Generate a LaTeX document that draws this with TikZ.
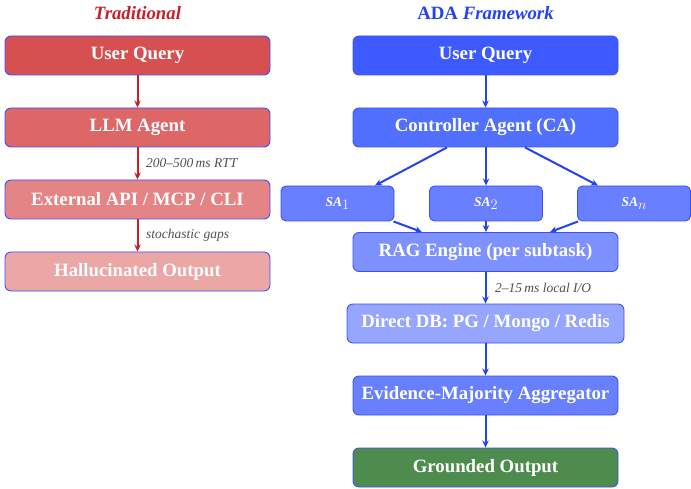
\documentclass[tikz,border=0pt]{standalone}
\usepackage{fontspec}
\setmainfont{Liberation Serif}
\usetikzlibrary{arrows.meta}
\definecolor{tred}{RGB}{200,30,40}
\definecolor{tblue}{RGB}{35,65,245}
\definecolor{bord}{RGB}{60,80,255}
\definecolor{r1}{RGB}{214,80,82}
\definecolor{r2}{RGB}{221,102,102}
\definecolor{r3}{RGB}{228,132,132}
\definecolor{r4}{RGB}{235,166,166}
\definecolor{b1}{RGB}{60,90,255}
\definecolor{b2}{RGB}{82,112,255}
\definecolor{b3}{RGB}{104,128,255}
\definecolor{b4}{RGB}{126,146,255}
\definecolor{b5}{RGB}{150,166,255}
\definecolor{b6}{RGB}{104,128,255}
\definecolor{gout}{RGB}{78,140,78}
\definecolor{lbl}{RGB}{80,80,80}
\newcommand{\salabel}[1]{{\fontsize{13.5}{15}\selectfont\bfseries\itshape SA}\raisebox{-3.5pt}{\fontsize{15}{17}\selectfont$#1$}}
\tikzset{
  box/.style={draw=bord, line width=0.9pt, rounded corners=6pt, text=white,
    minimum height=39pt, minimum width=265pt, inner sep=0pt,
    font=\fontsize{18.8}{22}\selectfont\bfseries},
  sabox/.style={draw=bord, line width=0.9pt, rounded corners=5pt, text=white,
    minimum height=35pt, minimum width=113pt, inner sep=0pt, fill=b3},
  rarr/.style={draw=tred, line width=2pt, -{Stealth[length=7pt,width=6.5pt]}},
  barr/.style={draw=tblue, line width=2pt, -{Stealth[length=7pt,width=6.5pt]}},
  elbl/.style={anchor=west, text=lbl, inner sep=0pt, font=\fontsize{13.5}{15}\selectfont\itshape},
  ttl/.style={inner sep=0pt, font=\fontsize{18.8}{22}\selectfont\bfseries}
}
\begin{document}
\begin{tikzpicture}[x=1pt,y=-1pt]
\useasboundingbox (0,0) rectangle (691,489);
% titles
\node[ttl, text=tred] (t1) at (137.5,13) {\itshape Traditional};
\node[ttl, text=tblue] (t2) at (485.5,13) {ADA \itshape Framework};
% left column
\node[box, fill=r1] (l1) at (137.5,55.5) {User Query};
\node[box, fill=r2] (l2) at (137.5,127.5) {LLM Agent};
\node[box, fill=r3] (l3) at (137.5,199.5) {External API / MCP / CLI};
\node[box, fill=r4] (l4) at (137.5,271.5) {Hallucinated Output};
\draw[rarr] (l1) -- (l2);
\draw[rarr] (l2) -- (l3);
\draw[rarr] (l3) -- (l4);
\node[elbl] (e1) at (146,163.5) {200--500\,ms RTT};
\node[elbl] (e2) at (146,235.5) {stochastic gaps};
% right column
\node[box, fill=b1] (r1) at (485.5,55.5) {User Query};
\node[box, fill=b2] (ca) at (485.5,127.5) {Controller Agent (CA)};
\node[sabox] (sa1) at (337.5,203.5) {\salabel{1}};
\node[sabox] (sa2) at (486,203.5) {\salabel{2}};
\node[sabox] (san) at (634,203.5) {\salabel{n}};
\node[box, fill=b4] (rag) at (485.5,252) {RAG Engine (per subtask)};
\node[box, fill=b5, minimum width=277pt] (db) at (485.5,323.5) {Direct DB: PG / Mongo / Redis};
\node[box, fill=b6] (ev) at (485.5,395.5) {Evidence-Majority Aggregator};
\node[box, fill=gout] (go) at (485.5,467.5) {Grounded Output};
\draw[barr] (r1) -- (ca);
\draw[barr] ([xshift=-38.5pt]ca.south) -- ([xshift=37.5pt]sa1.north);
\draw[barr] (ca.south -| sa2.north) -- (sa2.north);
\draw[barr] ([xshift=39.5pt]ca.south) -- ([xshift=-36pt]san.north);
\draw[barr] ([xshift=-1pt]sa1.south east) -- ([xshift=-63.5pt]rag.north);
\draw[barr] (sa2.south) -- (rag.north -| sa2.south);
\draw[barr] ([xshift=1pt]san.south west) -- ([xshift=64.5pt]rag.north);
\draw[barr] (rag) -- (db);
\draw[barr] (db) -- (ev);
\draw[barr] (ev) -- (go);
\node[elbl] (e3) at (495,288) {2--15\,ms local I/O};
\end{tikzpicture}
\end{document}
